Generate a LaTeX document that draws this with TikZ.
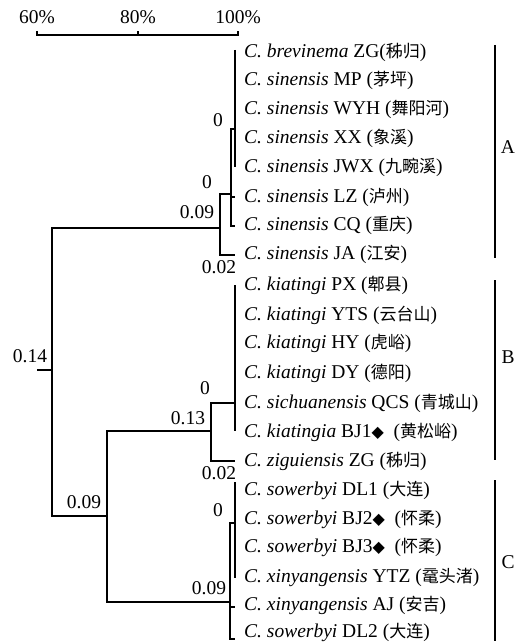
\documentclass[tikz,border=0pt]{standalone}
\usepackage{fontspec}
\setmainfont{Liberation Serif}
\newfontfamily\cjkfont{Noto Sans CJK SC}
\newfontfamily\symfont{DejaVu Sans}
\newcommand{\zhtxt}[1]{{\cjkfont\fontsize{17}{18}\selectfont #1}}
\newcommand{\dmd}{{\symfont\fontsize{16}{18}\selectfont ◆}}
\begin{document}
\begin{tikzpicture}[x=1pt,y=-1pt,
  leaf/.style={anchor=west, inner sep=0pt, font=\fontsize{19.5}{22}\selectfont},
  num/.style={inner sep=0pt, font=\fontsize{19.5}{22}\selectfont},
  branch/.style={line width=1.1pt},
  bracket/.style={line width=1.4pt}]
\useasboundingbox (0,0) rectangle (520,644);
% scale bar
\coordinate (s60) at (37,35);
\coordinate (s80) at (138,35);
\coordinate (s100) at (238,35);
\draw[branch] ([yshift=4pt]s60) -- (s60) -- (s100) -- ([yshift=4pt]s100);
\draw[branch] (s80) -- ([yshift=4pt]s80);
\node[num] (t60) at (37,17) {60\%};
\node[num] (t80) at (138,17) {80\%};
\node[num] (t100) at (238,17) {100\%};
% leaves
\node[leaf] (l0) at (244,52) {\textit{C. brevinema} ZG(\zhtxt{秭归})};
\node[leaf] (l1) at (244,80) {\textit{C. sinensis} MP (\zhtxt{茅坪})};
\node[leaf] (l2) at (244,109) {\textit{C. sinensis} WYH (\zhtxt{舞阳河})};
\node[leaf] (l3) at (244,138) {\textit{C. sinensis} XX (\zhtxt{象溪})};
\node[leaf] (l4) at (244,167) {\textit{C. sinensis} JWX (\zhtxt{九畹溪})};
\node[leaf] (l5) at (244,197) {\textit{C. sinensis} LZ (\zhtxt{泸州})};
\node[leaf] (l6) at (244,225) {\textit{C. sinensis} CQ (\zhtxt{重庆})};
\node[leaf] (l7) at (244,254) {\textit{C. sinensis} JA (\zhtxt{江安})};
\node[leaf] (l8) at (244,285) {\textit{C. kiatingi} PX (\zhtxt{郫县})};
\node[leaf] (l9) at (244,315) {\textit{C. kiatingi} YTS (\zhtxt{云台山})};
\node[leaf] (l10) at (244,343) {\textit{C. kiatingi} HY (\zhtxt{虎峪})};
\node[leaf] (l11) at (244,373) {\textit{C. kiatingi} DY (\zhtxt{德阳})};
\node[leaf] (l12) at (244,403) {\textit{C. sichuanensis} QCS (\zhtxt{青城山})};
\node[leaf] (l13) at (244,432) {\textit{C. kiatingia} BJ1\dmd\ \ (\zhtxt{黄松峪})};
\node[leaf] (l14) at (244,461) {\textit{C. ziguiensis} ZG (\zhtxt{秭归})};
\node[leaf] (l15) at (244,490) {\textit{C. sowerbyi} DL1 (\zhtxt{大连})};
\node[leaf] (l16) at (244,519) {\textit{C. sowerbyi} BJ2\dmd\ \ (\zhtxt{怀柔})};
\node[leaf] (l17) at (244,547) {\textit{C. sowerbyi} BJ3\dmd\ \ (\zhtxt{怀柔})};
\node[leaf] (l18) at (244,577) {\textit{C. xinyangensis} YTZ (\zhtxt{鼋头渚})};
\node[leaf] (l19) at (244,605) {\textit{C. xinyangensis} AJ (\zhtxt{安吉})};
\node[leaf] (l20) at (244,632) {\textit{C. sowerbyi} DL2 (\zhtxt{大连})};
% tree coordinates
\coordinate (Atop) at (235,50);
\coordinate (Abot) at (235,167);
\coordinate (A0t) at (231,129);
\coordinate (A0b) at (231,226);
\coordinate (A9t) at (220,194);
\coordinate (A9b) at (220,255);
\coordinate (Rt) at (52,228);
\coordinate (Rb) at (52,516);
\coordinate (BCt) at (107,431);
\coordinate (BCb) at (107,602);
\coordinate (Bt) at (211,403);
\coordinate (Bb) at (211,461);
\coordinate (Btop) at (235,285);
\coordinate (Bbot) at (235,431);
\coordinate (Ctop) at (235,482);
\coordinate (Cbot) at (235,578);
\coordinate (C9t) at (230,523);
\coordinate (C9b) at (230,639);
% cluster A
\draw[branch] (Atop) -- (Abot);
\draw[branch] (A0t -| Atop) -- (A0t) -- (A0b) -- (A0b -| Atop);
\draw[branch] (A0t |- l5.west) -- (l5.west -| Atop);
\draw[branch] (A9t -| A0t) -- (A9t) -- (A9b) -- (A9b -| Atop);
% root
\draw[branch] (A9t |- Rt) -- (Rt) -- (Rb) -- (Rb -| BCt);
\draw[branch] (37,370) -- (52,370);
% B/C
\draw[branch] (BCt -| Bt) -- (BCt) -- (BCb) -- (BCb -| C9t);
\draw[branch] (Btop) -- (Bbot);
\draw[branch] (Bt -| Btop) -- (Bt) -- (Bb) -- (Bb -| Btop);
\draw[branch] (Ctop) -- (Cbot);
\draw[branch] (C9t -| Ctop) -- (C9t) -- (C9b) -- (C9b -| Ctop);
\draw[branch] (C9t |- 0,607) -- (235,607);
% numbers
\node[num] (n1) at (218,120) {0};
\node[num] (n2) at (207,182) {0};
\node[num] (n3) at (197,212) {0.09};
\node[num] (n4) at (219,267) {0.02};
\node[num] (n5) at (30,356) {0.14};
\node[num] (n6) at (205,388) {0};
\node[num] (n7) at (188,418) {0.13};
\node[num] (n8) at (219,473) {0.02};
\node[num] (n9) at (84,502) {0.09};
\node[num] (n10) at (218,510) {0};
\node[num] (n11) at (209,588) {0.09};
% brackets
\coordinate (bAt) at (495,45);
\coordinate (bAb) at (495,258);
\coordinate (bBt) at (495,280);
\coordinate (bBb) at (495,460);
\coordinate (bCt) at (495,480);
\coordinate (bCb) at (495,641);
\draw[bracket] (bAt) -- (bAb);
\draw[bracket] (bBt) -- (bBb);
\draw[bracket] (bCt) -- (bCb);
\node[num] (gA) at (508,147) {A};
\node[num] (gB) at (508,357) {B};
\node[num] (gC) at (508,562) {C};
\end{tikzpicture}
\end{document}
